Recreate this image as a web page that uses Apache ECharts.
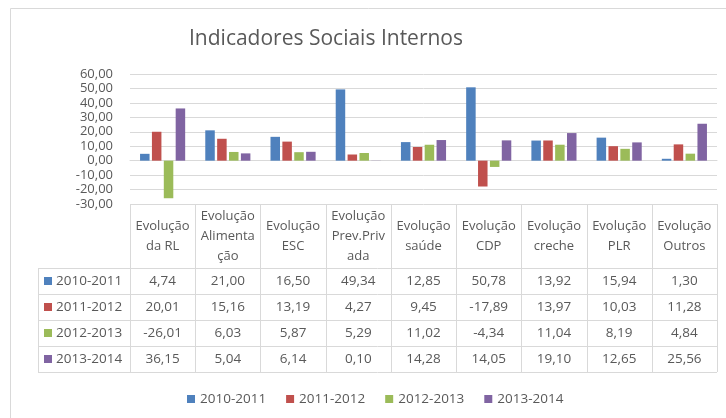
<!DOCTYPE html>
<html>
<head>
<meta charset="utf-8">
<script src="https://cdn.jsdelivr.net/npm/echarts@6/dist/echarts.min.js"></script>
<style>
  html, body { margin: 0; padding: 0; background: #fff; }
  #chart { width: 726px; height: 418px; }
</style>
</head>
<body>
<div id="chart"></div>
<script>
const categories = [
  "Evolução\nda RL",
  "Evolução\nAlimenta\nção",
  "Evolução\nESC",
  "Evolução\nPrev.Priv\nada",
  "Evolução\nsaúde",
  "Evolução\nCDP",
  "Evolução\ncreche",
  "Evolução\nPLR",
  "Evolução\nOutros",
];
const seriesNames = ["2010-2011", "2011-2012", "2012-2013", "2013-2014"];
const s2010 = [4.74, 21.0, 16.5, 49.34, 12.85, 50.78, 13.92, 15.94, 1.3];
const s2011 = [20.01, 15.16, 13.19, 4.27, 9.45, -17.89, 13.97, 10.03, 11.28];
const s2012 = [-26.01, 6.03, 5.87, 5.29, 11.02, -4.34, 11.04, 8.19, 4.84];
const s2013 = [36.15, 5.04, 6.14, 0.1, 14.28, 14.05, 19.1, 12.65, 25.56];
const yMin = -30;
const yMax = 60;
const yStep = 10;

const colors = ["#4F81BD", "#C0504D", "#9BBB59", "#8064A2"];
const allSeries = [s2010, s2011, s2012, s2013];
const textColor = "#595959";
const lineColor = "#d9d9d9";
const font = "'Open Sans', sans-serif";

const fmt = (v) => v.toFixed(2).replace(".", ",");

const chart = echarts.init(document.getElementById("chart"));

const option = {
  animation: false,
  color: colors,
  textStyle: { fontFamily: font },
  title: {
    text: "Indicadores Sociais Internos",
    left: 184,
    top: 24,
    textStyle: { color: textColor, fontSize: 21, fontWeight: "normal", fontFamily: font },
  },
  legend: {
    data: seriesNames,
    left: 182,
    top: 387,
    icon: "rect",
    itemWidth: 8,
    itemHeight: 8,
    itemGap: 20,
    textStyle: { color: textColor, fontSize: 13.5, fontFamily: font },
  },
  grid: { left: 130, right: 9, top: 74, bottom: 214 },
  xAxis: {
    type: "category",
    data: categories,
    axisLine: { lineStyle: { color: lineColor } },
    axisTick: { show: false },
    axisLabel: { show: false },
  },
  yAxis: {
    type: "value",
    min: yMin,
    max: yMax,
    interval: yStep,
    axisLine: { show: false },
    axisTick: { show: false },
    splitLine: { lineStyle: { color: lineColor } },
    axisLabel: {
      color: textColor,
      fontSize: 13,
      margin: 17,
      formatter: (v) => fmt(v),
    },
  },
  series: seriesNames.map((name, i) => ({
    name,
    type: "bar",
    data: allSeries[i],
    barWidth: 9.5,
    barGap: "25%",
    itemStyle: { color: colors[i] },
  })),
};

chart.setOption(option);

// data table under the plot
function buildTable() {
  const c0 = chart.convertToPixel({ xAxisIndex: 0 }, 0);
  const c1 = chart.convertToPixel({ xAxisIndex: 0 }, 1);
  const w = c1 - c0;
  const left = c0 - w / 2;
  const right = left + w * categories.length;
  const top = chart.convertToPixel({ yAxisIndex: 0 }, yMin);
  const headerBottom = 268;
  const rowH = 26;
  const tableLeft = 38;
  const bottom = headerBottom + rowH * seriesNames.length;
  const els = [];
  const line = (x1, y1, x2, y2) =>
    els.push({
      type: "line",
      shape: { x1, y1, x2, y2 },
      style: { stroke: lineColor, lineWidth: 1 },
      silent: true,
    });

  // chart frame
  els.push({
    type: "rect",
    shape: { x: 10.5, y: 8.5, width: 730, height: 430 },
    style: { fill: null, stroke: lineColor, lineWidth: 1 },
    silent: true,
  });

  for (let i = 0; i <= categories.length; i++) {
    const x = Math.round(left + i * w) + 0.5;
    line(x, top, x, bottom);
  }
  line(tableLeft + 0.5, headerBottom, tableLeft + 0.5, bottom);
  for (let r = 0; r <= seriesNames.length; r++) {
    const y = headerBottom + r * rowH + 0.5;
    line(tableLeft, y, right, y);
  }

  categories.forEach((cat, i) => {
    const cx = chart.convertToPixel({ xAxisIndex: 0 }, i);
    els.push({
      type: "text",
      x: cx,
      y: (top + headerBottom) / 2,
      style: {
        text: cat,
        fill: textColor,
        font: "13px " + font,
        lineHeight: 20,
        align: "center",
        verticalAlign: "middle",
      },
      silent: true,
    });
    allSeries.forEach((vals, r) => {
      els.push({
        type: "text",
        x: cx,
        y: headerBottom + r * rowH + rowH / 2,
        style: {
          text: fmt(vals[i]),
          fill: textColor,
          font: "13.5px " + font,
          align: "center",
          verticalAlign: "middle",
        },
        silent: true,
      });
    });
  });

  seriesNames.forEach((name, r) => {
    const cy = headerBottom + r * rowH + rowH / 2;
    els.push({
      type: "rect",
      shape: { x: 44, y: cy - 4, width: 8, height: 8 },
      style: { fill: colors[r] },
      silent: true,
    });
    els.push({
      type: "text",
      x: 56,
      y: cy,
      style: {
        text: name,
        fill: textColor,
        font: "13.5px " + font,
        align: "left",
        verticalAlign: "middle",
      },
      silent: true,
    });
  });

  chart.setOption({ graphic: { elements: els } });
}

buildTable();
</script>
</body>
</html>
